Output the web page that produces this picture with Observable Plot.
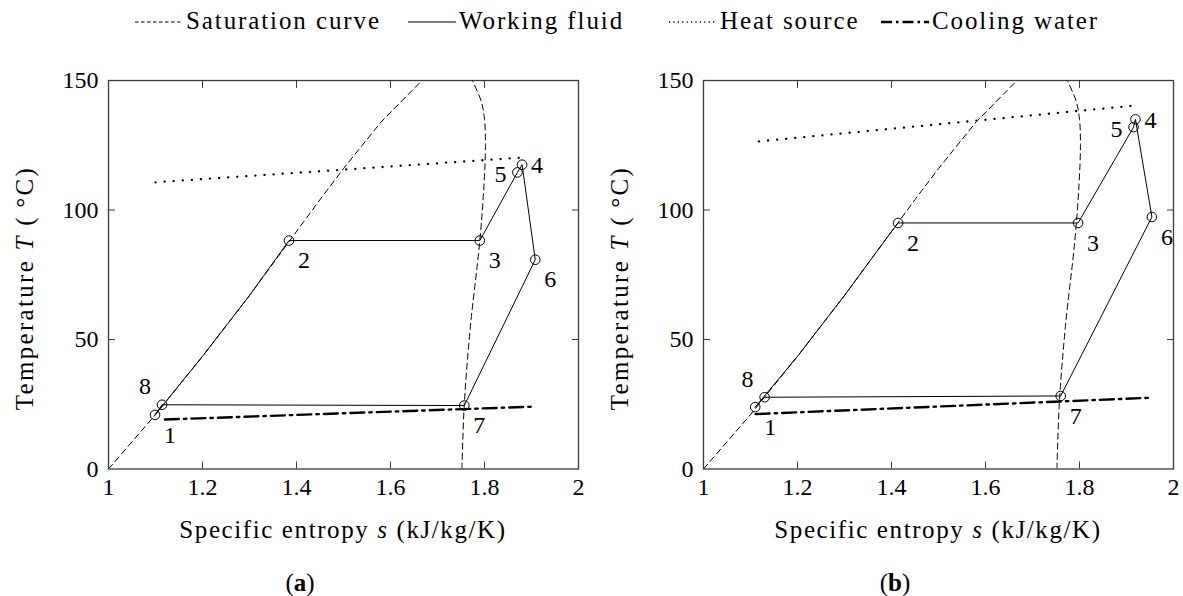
<!DOCTYPE html>
<html>
<head>
<meta charset="utf-8">
<script src="https://cdn.jsdelivr.net/npm/d3@7"></script>
<script src="https://cdn.jsdelivr.net/npm/@observablehq/plot@0.6"></script>
<style>
  html, body { margin: 0; padding: 0; background: #fff; }
  body { position: relative; width: 1183px; height: 596px; overflow: hidden;
         font-family: "Liberation Serif", serif; color: #000; }
  .abs { position: absolute; white-space: nowrap; }
  .center { transform: translate(-50%, -50%); }
  .ylab { transform: translate(-50%, -50%) rotate(-90deg); letter-spacing: 2.3px !important; }
  .lab { font-size: 25px; line-height: 1; letter-spacing: 1.6px; }
  .cap { font-size: 25px; line-height: 1; }
  .leg { position: absolute; top: 8px; display: flex; align-items: center;
         font-size: 25px; line-height: 1; letter-spacing: 1.9px; white-space: nowrap; }
  .leg svg { margin-right: 2px; }
  .panel { position: absolute; top: 0; }
  .panel svg text { font-family: "Liberation Serif", serif !important; }
</style>
</head>
<body>
<div id="legend"></div>
<div id="panelA" class="panel" style="left:0px"></div>
<div id="panelB" class="panel" style="left:595px"></div>

<div class="abs lab ylab" style="left:24px; top:288px">Temperature <i>T</i> (&#8201;°C)</div>
<div class="abs lab ylab" style="left:619px; top:288px">Temperature <i>T</i> (&#8201;°C)</div>
<div class="abs lab center" style="left:343px; top:529px">Specific entropy <i>s</i> (kJ/kg/K)</div>
<div class="abs lab center" style="left:938px; top:529px">Specific entropy <i>s</i> (kJ/kg/K)</div>
<div class="abs cap center" style="left:300px; top:582px">(<b>a</b>)</div>
<div class="abs cap center" style="left:895px; top:582px">(<b>b</b>)</div>

<script>
// Saturation dome of the working fluid: liquid and vapour branches (s in kJ/kg/K, T in °C)
const satLiquidS = [1.000, 1.100, 1.200, 1.300, 1.385, 1.450, 1.500, 1.580, 1.667];
const satLiquidT = [0, 21, 43.5, 67, 88, 104, 116, 134, 150];
const satVapourS = [1.752, 1.757, 1.770, 1.790, 1.799, 1.802, 1.800, 1.793, 1.774];
const satVapourT = [0, 25, 55, 88, 110, 125, 135, 142, 150];

// Cycle state points
const stateLabels = ["1", "2", "3", "4", "5", "6", "7", "8"];
const cycleOrder = ["1", "2", "3", "5", "4", "6", "7", "8", "1"];

// Case (a)
const aS = [1.099, 1.384, 1.790, 1.880, 1.870, 1.908, 1.757, 1.114];
const aT = [20.9, 88.2, 88.2, 117.5, 114.5, 80.8, 24.5, 24.8];
const aHeatS = [1.100, 1.877];
const aHeatT = [110.7, 120.2];
const aCoolS = [1.120, 1.908];
const aCoolT = [19.1, 24.1];

// Case (b)
const bS = [1.110, 1.414, 1.797, 1.919, 1.915, 1.954, 1.760, 1.130];
const bT = [23.9, 95.0, 95.0, 135.0, 132.0, 97.3, 28.2, 27.7];
const bHeatS = [1.118, 1.916];
const bHeatT = [126.5, 140.3];
const bCoolS = [1.111, 1.950];
const bCoolT = [21.2, 27.5];

// Axis ticks
const xTicks = [1, 1.2, 1.4, 1.6, 1.8, 2];
const yTicks = [0, 50, 100, 150];

// Line styles
const STY = {
  saturation: { stroke: "#000", strokeWidth: 1, strokeDasharray: "6,4" },
  fluid: { stroke: "#000", strokeWidth: 1 },
  heat: { stroke: "#000", strokeWidth: 2.3, strokeDasharray: "0.1,9", strokeLinecap: "round" },
  cool: { stroke: "#000", strokeWidth: 2.4, strokeDasharray: "14,5,2.5,5" }
};

// Where each state label sits relative to its point
const placement = { "1": "br", "2": "br", "3": "br", "6": "br", "7": "br", "8": "al", "5": "l", "4": "r" };
const offsets = { br: [15, 20], al: [-17, -18], l: [-17, 2], r: [15, 1] };

const zip = (S, T) => S.map((s, i) => ({ s, t: T[i] }));
const fmt = d => String(d);
const frameColor = "#3a3a3a";
const FONT = '"Liberation Serif", serif';

function drawPanel(S, T, heatS, heatT, coolS, coolT, width, marginRight) {
  const pts = stateLabels.map((k, i) => ({ k, s: S[i], t: T[i] }));
  const byKey = Object.fromEntries(pts.map(p => [p.k, p]));
  const liquid = zip(satLiquidS, satLiquidT);
  // 1 -> 2 runs along the saturated-liquid line; the rest joins the state points
  const p1 = byKey["1"], p2 = byKey["2"];
  const along = liquid.filter(d => d.s > p1.s + 0.02 && d.s < p2.s - 0.005);
  const cycle = [p1, ...along, ...cycleOrder.slice(1).map(k => byKey[k])];
  const labelMarks = Object.entries(offsets).map(([pos, [dx, dy]]) =>
    Plot.text(pts.filter(p => placement[p.k] === pos), {
      x: "s", y: "t", text: "k", dx, dy, fontSize: 24, fontFamily: FONT, fill: "#000",
      textAnchor: "middle", lineAnchor: "middle"
    })
  );
  return Plot.plot({
    width, height: 596,
    marginLeft: 108, marginRight, marginTop: 80, marginBottom: 127.5,
    x: { domain: [1, 2] },
    y: { domain: [0, 150] },
    style: { fontFamily: FONT, fontSize: "24px", color: "#000", background: "transparent", overflow: "visible" },
    marks: [
      Plot.line(liquid, { x: "s", y: "t", clip: true, ...STY.saturation }),
      Plot.line(zip(satVapourS, satVapourT), { x: "s", y: "t", curve: "catmull-rom", clip: true, ...STY.saturation }),
      Plot.line(zip(heatS, heatT), { x: "s", y: "t", ...STY.heat }),
      Plot.line(zip(coolS, coolT), { x: "s", y: "t", ...STY.cool }),
      Plot.line(cycle, { x: "s", y: "t", ...STY.fluid }),
      Plot.dot(pts, { x: "s", y: "t", r: 4.8, stroke: "#000", strokeWidth: 1, fill: "none" }),
      ...labelMarks,
      Plot.frame({ stroke: frameColor, strokeWidth: 1.3 }),
      // tick labels
      Plot.axisX({ anchor: "bottom", ticks: xTicks, tickFormat: fmt, tickSize: 0, tickPadding: 9, label: null, fontSize: 24, fontFamily: FONT }),
      Plot.axisY({ anchor: "left", ticks: yTicks, tickFormat: fmt, tickSize: 0, tickPadding: 10, label: null, fontSize: 24, fontFamily: FONT }),
      // inward tick marks on all four sides
      Plot.axisX({ anchor: "bottom", ticks: xTicks.slice(1, -1), tickSize: -7, fill: "none", stroke: frameColor, label: null }),
      Plot.axisX({ anchor: "top", ticks: xTicks.slice(1, -1), tickSize: -7, fill: "none", stroke: frameColor, label: null }),
      Plot.axisY({ anchor: "left", ticks: yTicks.slice(1, -1), tickSize: -7, fill: "none", stroke: frameColor, label: null }),
      Plot.axisY({ anchor: "right", ticks: yTicks.slice(1, -1), tickSize: -7, fill: "none", stroke: frameColor, label: null })
    ]
  });
}

document.getElementById("panelA").append(drawPanel(aS, aT, aHeatS, aHeatT, aCoolS, aCoolT, 590, 12));
document.getElementById("panelB").append(drawPanel(bS, bT, bHeatS, bHeatT, bCoolS, bCoolT, 588, 10));

// Legend across the top
const legendItems = [
  { name: "Saturation curve", style: { stroke: "#000", strokeWidth: 1, strokeDasharray: "3.5,2.5" }, left: 134 },
  { name: "Working fluid", style: STY.fluid, left: 407 },
  { name: "Heat source", style: { stroke: "#000", strokeWidth: 1.3, strokeDasharray: "1.2,3.2" }, left: 668 },
  { name: "Cooling water", style: { stroke: "#000", strokeWidth: 2.4, strokeDasharray: "11,4,2.5,4" }, left: 880 }
];
const legend = document.getElementById("legend");
const ns = "http://www.w3.org/2000/svg";
for (const item of legendItems) {
  const div = document.createElement("div");
  div.className = "leg";
  div.style.left = item.left + "px";
  const svg = document.createElementNS(ns, "svg");
  svg.setAttribute("width", 50);
  svg.setAttribute("height", 24);
  const ln = document.createElementNS(ns, "line");
  ln.setAttribute("x1", 1); ln.setAttribute("x2", 49);
  ln.setAttribute("y1", 13); ln.setAttribute("y2", 13);
  ln.setAttribute("stroke", item.style.stroke);
  ln.setAttribute("stroke-width", item.style.strokeWidth);
  if (item.style.strokeDasharray) ln.setAttribute("stroke-dasharray", item.style.strokeDasharray);
  svg.append(ln);
  const span = document.createElement("span");
  span.textContent = item.name;
  div.append(svg, span);
  legend.append(div);
}
</script>
</body>
</html>
